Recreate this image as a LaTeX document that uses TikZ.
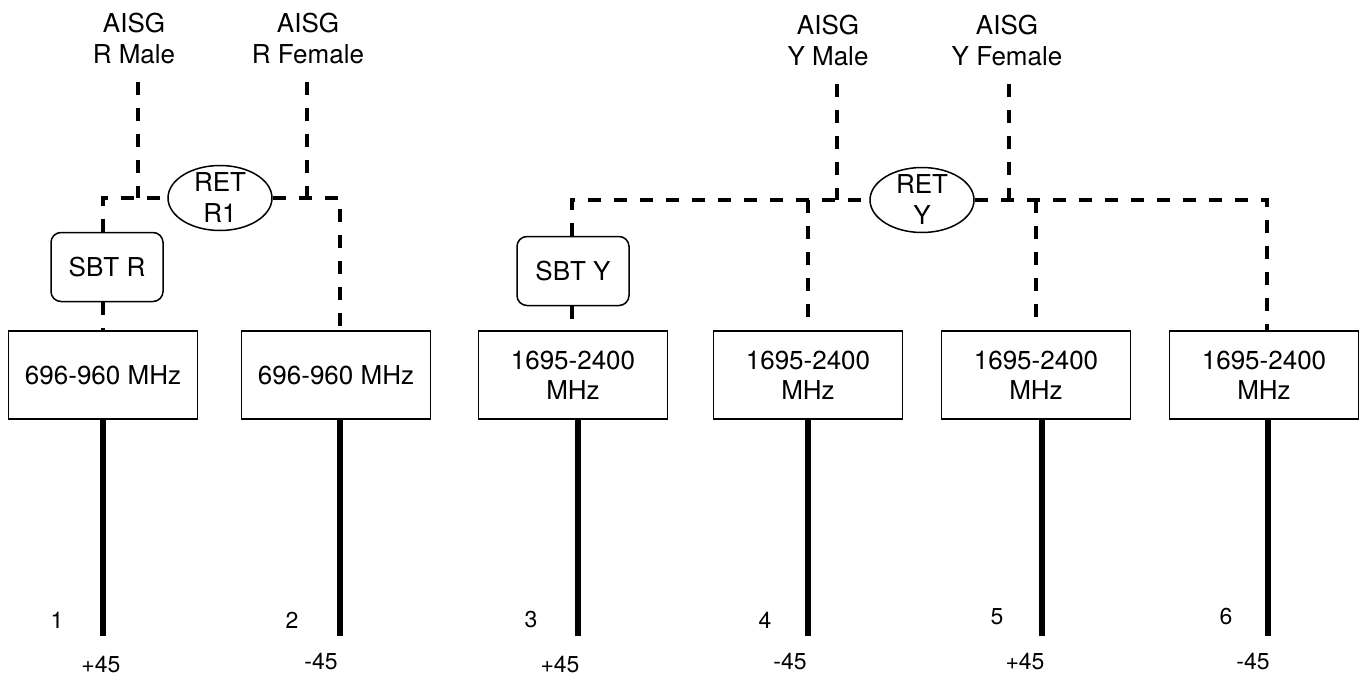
\documentclass[tikz,border=0pt]{standalone}
\usepackage{fontspec}
\setmainfont{TeX Gyre Heros}
\usetikzlibrary{shapes.geometric}
\usetikzlibrary{positioning}
\tikzstyle{aisg_label} = [
    align=center, 
    font=\fontsize{13}{15.5}\selectfont, 
    inner xsep=2pt, 
    inner ysep=9pt
]
\tikzstyle{ret_node} = [
    ellipse, 
    draw=black, 
    line width=0.75pt, 
    align=center, 
    font=\fontsize{13}{15.5}\selectfont, 
    inner sep=-1pt, % keeps the ellipse flat
    minimum width=52pt, 
    minimum height=32.5pt
]
\tikzstyle{sbt_box} = [
    rectangle, 
    rounded corners=5pt, 
    draw=black, 
    line width=0.75pt, 
    font=\fontsize{13}{15.5}\selectfont, 
    minimum width=56pt, 
    minimum height=34.5pt
]
\tikzstyle{band_box} = [
    rectangle, 
    draw=black, 
    line width=0.75pt, 
    align=center, 
    font=\fontsize{13}{15}\selectfont, 
    minimum width=94.5pt, 
    minimum height=44pt
]
\tikzstyle{port_label} = [
    font=\fontsize{11.5}{13}\selectfont, 
    inner sep=0pt
]
\tikzstyle{ctrl_line} = [
    line width=2.2pt, 
    dash pattern=on 6.5pt off 6.5pt
]
\tikzstyle{feed_line} = [
    line width=3pt
]
\begin{document}
\begin{tikzpicture}[x=0.5pt, y=0.5pt]
\useasboundingbox (0,0) rectangle (1360,682);

% AISG connectors
\node [aisg_label] (aisgRm) at (134,644) {AISG\\R Male};
\node [aisg_label] (aisgRf) at (308,644) {AISG\\R Female};
\node [aisg_label] (aisgYm) at (828,642) {AISG\\Y Male};
\node [aisg_label] (aisgYf) at (1007,642) {AISG\\Y Female};

% RET units
\node [ret_node] (retR) at (220,484) {RET\\R1};
\node [ret_node] (retY) at (922,482) {RET\\Y};

% bias tees
\node [sbt_box] (sbtR) at (107,415) {SBT R};
\node [sbt_box] (sbtY) at (573,411) {SBT Y};

% frequency bands
\node [band_box] (b1) at (103,307) {696-960 MHz};
\node [band_box] (b2) at (336,307) {696-960 MHz};
\node [band_box] (b3) at (573,307) {1695-2400\\MHz};
\node [band_box] (b4) at (808,307) {1695-2400\\MHz};
\node [band_box] (b5) at (1036,307) {1695-2400\\MHz};
\node [band_box] (b6) at (1264,307) {1695-2400\\MHz};

% drop points on the boxes
\coordinate (t1) at (103,351);
\coordinate (t2) at (340,351);
\coordinate (t3) at (572,351);
\coordinate (t4) at (808,351);
\coordinate (t5) at (1036,351);
\coordinate (t6) at (1267,351);
\coordinate (mR) at (138,484);
\coordinate (fR) at (307,484);
\coordinate (mY) at (837,482);
\coordinate (fY) at (1009,482);

% control bus R
\draw [ctrl_line] (aisgRm.south -| mR) -- (mR);
\draw [ctrl_line] (aisgRf.south -| fR) -- (fR);
\draw [ctrl_line] (sbtR.north -| t1) |- (retR.west);
\draw [ctrl_line] (retR.east) -| (t2);
\draw [ctrl_line] (sbtR.south -| t1) -- (t1);

% control bus Y
\draw [ctrl_line] (aisgYm.south -| mY) -- (mY);
\draw [ctrl_line] (aisgYf.south -| fY) -- (fY);
\draw [ctrl_line] (sbtY.north -| t3) |- (retY.west);
\draw [ctrl_line] (retY.east) -| (t6);
\draw [ctrl_line] (sbtY.south -| t3) -- (t3);
\draw [ctrl_line] (t4 |- retY) -- (t4);
\draw [ctrl_line] (t5 |- retY) -- (t5);

% feeds
\coordinate (e1) at (103,46);
\coordinate (e2) at (340,46);
\coordinate (e3) at (578,46);
\coordinate (e4) at (808,46);
\coordinate (e5) at (1042,46);
\coordinate (e6) at (1268,46);
\draw [feed_line] (b1.south -| e1) -- (e1);
\draw [feed_line] (b2.south -| e2) -- (e2);
\draw [feed_line] (b3.south -| e3) -- (e3);
\draw [feed_line] (b4.south -| e4) -- (e4);
\draw [feed_line] (b5.south -| e5) -- (e5);
\draw [feed_line] (b6.south -| e6) -- (e6);

% ports
\node [port_label] (n1) at (57,62) {1};
\node [port_label] (n2) at (292,62) {2};
\node [port_label] (n3) at (531,62) {3};
\node [port_label] (n4) at (765,62) {4};
\node [port_label] (n5) at (997,65) {5};
\node [port_label] (n6) at (1226,65) {6};
\node [port_label] (s1) at (101,17) {+45};
\node [port_label] (s2) at (321,20) {-45};
\node [port_label] (s3) at (560,17) {+45};
\node [port_label] (s4) at (790,20) {-45};
\node [port_label] (s5) at (1025,20) {+45};
\node [port_label] (s6) at (1253,20) {-45};
\end{tikzpicture}
\end{document}
